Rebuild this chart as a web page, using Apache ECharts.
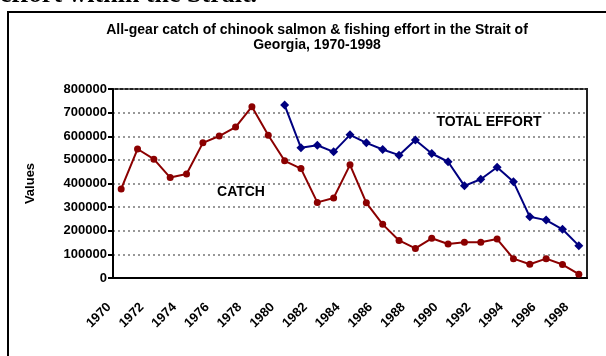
<!DOCTYPE html>
<html>
<head>
<meta charset="utf-8">
<script src="https://cdn.jsdelivr.net/npm/echarts@6/dist/echarts.min.js"></script>
<style>
  html, body { margin: 0; padding: 0; background: #fff; }
  #chart { width: 606px; height: 356px; }
</style>
</head>
<body>
<div id="chart"></div>
<script>
const YEARS = [
    '1970', '1971', '1972', '1973', '1974', '1975', '1976', '1977', '1978', '1979',
    '1980', '1981', '1982', '1983', '1984', '1985', '1986', '1987', '1988', '1989',
    '1990', '1991', '1992', '1993', '1994', '1995', '1996', '1997', '1998',
];
const CATCH = [
    377000, 546000, 503000, 425000, 440000, 572000, 601000, 639000, 725000, 604000,
    496000, 463000, 320000, 339000, 479000, 318000, 227000, 159000, 125000, 168000,
    144000, 151000, 151000, 165000, 82000, 58000, 82000, 57000, 16000,
];
const EFFORT = [
    null, null, null, null, null, null, null, null, null, null,
    732000, 551000, 562000, 534000, 606000, 572000, 544000, 520000, 584000, 527000,
    492000, 390000, 418000, 469000, 407000, 259000, 245000, 206000, 137000,
];
const FONT = 'Arial, "Liberation Sans", sans-serif';

const chart = echarts.init(document.getElementById('chart'), null, { renderer: 'canvas' });

chart.setOption({
    animation: false,
    backgroundColor: '#fff',
    title: {
        text: 'All-gear catch of chinook salmon & fishing effort in the Strait of\nGeorgia, 1970-1998',
        left: 312,
        top: 18,
        textAlign: 'center',
        textStyle: { fontFamily: FONT, fontSize: 14, fontWeight: 'bold', color: '#000', lineHeight: 15 },
    },
    grid: {
        left: 113, right: 19, top: 89, bottom: 78,
        show: true, borderColor: '#222', borderWidth: 2,
    },
    xAxis: {
        type: 'category',
        data: YEARS,
        boundaryGap: true,
        axisLine: { lineStyle: { color: '#000', width: 2 } },
        axisTick: { interval: 0, length: 5, lineStyle: { color: '#000', width: 2 } },
        axisLabel: {
            interval: 1, rotate: 45, margin: 15, padding: [0, 17, 0, 0],
            fontFamily: FONT, fontSize: 13, fontWeight: 'bold', color: '#000',
        },
    },
    yAxis: {
        type: 'value',
        min: 0, max: 800000, interval: 100000,
        name: 'Values',
        nameLocation: 'middle',
        nameGap: 76,
        nameTextStyle: { fontFamily: FONT, fontSize: 13, fontWeight: 'bold', color: '#000' },
        axisLine: { show: true, lineStyle: { color: '#000', width: 2 } },
        axisTick: { show: true, length: 5, lineStyle: { color: '#000', width: 2 } },
        axisLabel: {
            margin: 6, fontFamily: FONT, fontSize: 13, fontWeight: 'bold', color: '#000',
            formatter: v => String(v),
        },
        splitLine: { lineStyle: { color: '#777', type: [2, 3], width: 1.5 } },
    },
    series: [
        {
            name: 'CATCH',
            type: 'line',
            data: CATCH,
            symbol: 'circle',
            symbolSize: 7,
            lineStyle: { color: '#8b0000', width: 2 },
            itemStyle: { color: '#8b0000' },
        },
        {
            name: 'TOTAL EFFORT',
            type: 'line',
            data: EFFORT,
            symbol: 'diamond',
            symbolSize: 9,
            lineStyle: { color: '#000080', width: 2 },
            itemStyle: { color: '#000080' },
        },
    ],
    graphic: [
        {
            type: 'rect',
            shape: { x: 8, y: 12, width: 640, height: 400 },
            style: { fill: 'none', stroke: '#000', lineWidth: 2 },
            silent: true,
        },
        {
            type: 'text',
            x: 0, y: 8,
            style: {
                text: 'effort within the Strait.', font: 'bold 26px "Liberation Serif", serif',
                fill: '#000', verticalAlign: 'bottom',
            },
            silent: true,
        },
        {
            type: 'text',
            x: 241, y: 192,
            style: { text: 'CATCH', font: 'bold 14px ' + FONT, fill: '#000', align: 'center', verticalAlign: 'middle' },
        },
        {
            type: 'text',
            x: 489, y: 122,
            style: { text: 'TOTAL EFFORT', font: 'bold 14px ' + FONT, fill: '#000', align: 'center', verticalAlign: 'middle' },
        },
    ],
});
</script>
</body>
</html>
